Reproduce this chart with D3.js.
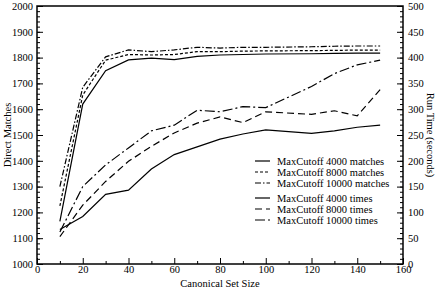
<!DOCTYPE html>
<html>
<head>
<meta charset="utf-8">
<script src="https://cdn.jsdelivr.net/npm/d3@7"></script>
<style>
body{margin:0;background:#fff;}
text{font-family:"Liberation Serif","DejaVu Serif",serif;}
</style>
</head>
<body>
<div class="chart"></div>
<script>
// canonical set sizes
var setSizes = [10,20,30,40,50,60,70,80,90,100,120,130,140,150];
// direct matches (left axis)
var matches4000  = [1165,1620,1749,1791,1798,1792,1805,1810,1812,1814,1815,1816,1817,1817];
var matches8000  = [1225,1655,1790,1812,1810,1812,1823,1823,1825,1826,1827,1828,1829,1829];
var matches10000 = [1300,1685,1803,1830,1823,1830,1840,1837,1840,1840,1842,1844,1845,1845];
// run times in seconds (right axis)
var times4000  = [67,92,135,143,184,212,227,242,252,260,253,258,265,269];
var times8000  = [53,114,160,199,228,254,273,285,274,295,290,297,287,338];
var times10000 = [62,150,192,225,258,269,298,295,305,303,344,369,386,395];

var xTicks = [0,20,40,60,80,100,120,140,160];
var leftTicks = [1000,1100,1200,1300,1400,1500,1600,1700,1800,1900,2000];
var rightTicks = [0,50,100,150,200,250,300,350,400,450,500];
var legendLabels = ["MaxCutoff 4000 matches","MaxCutoff 8000 matches","MaxCutoff 10000 matches",
                    "MaxCutoff 4000 times","MaxCutoff 8000 times","MaxCutoff 10000 times"];

var W = 436, H = 292;
var pl = 37, pr = 403, pt = 6, pb = 264;
var fs = "10.5px";

var svg = d3.select("div.chart").append("svg")
    .attr("width", W).attr("height", H);

var x = d3.scaleLinear().domain([0,160]).range([pl,pr]);
var yL = d3.scaleLinear().domain([1000,2000]).range([pb,pt]);
var yR = d3.scaleLinear().domain([0,500]).range([pb,pt]);

// axes, ticks pointing inward
function styleAxis(g){
    g.select(".domain").remove();
    g.selectAll("line").attr("stroke","#000").attr("stroke-width",1);
    g.selectAll("text").attr("font-size",fs).attr("fill","#000");
}
svg.append("g").attr("transform","translate(0,"+pb+")")
    .call(d3.axisBottom(x).tickValues(d3.range(10,160,20)).tickSize(-3).tickFormat(""))
    .call(styleAxis);
svg.append("g").attr("transform","translate(0,"+pb+")")
    .call(d3.axisBottom(x).tickValues(xTicks).tickSize(-6).tickPadding(2).tickFormat(d3.format("d")))
    .call(styleAxis);

svg.append("g").attr("transform","translate("+pl+",0)")
    .call(d3.axisLeft(yL).tickValues(d3.range(1000,2001,20)).tickSize(-3).tickFormat(""))
    .call(styleAxis);
svg.append("g").attr("transform","translate("+pl+",0)")
    .call(d3.axisLeft(yL).tickValues(leftTicks).tickSize(-6).tickPadding(4).tickFormat(d3.format("d")))
    .call(styleAxis);

svg.append("g").attr("transform","translate("+pr+",0)")
    .call(d3.axisRight(yR).tickValues(d3.range(0,501,10)).tickSize(-3).tickFormat(""))
    .call(styleAxis);
svg.append("g").attr("transform","translate("+pr+",0)")
    .call(d3.axisRight(yR).tickValues(rightTicks).tickSize(-6).tickPadding(5).tickFormat(d3.format("d")))
    .call(styleAxis);

svg.append("rect")
    .attr("x",pl).attr("y",pt)
    .attr("width",pr-pl).attr("height",pb-pt)
    .attr("fill","none").attr("stroke","#000").attr("stroke-width",1.5);

// axis titles
svg.append("text").text("Canonical Set Size")
    .attr("x",(pl+pr)/2).attr("y",287)
    .attr("text-anchor","middle").attr("font-size",fs);
svg.append("text").text("Direct Matches")
    .attr("transform","translate(11,"+((pt+pb)/2)+") rotate(-90)")
    .attr("text-anchor","middle").attr("font-size",fs);
svg.append("text").text("Run Time (seconds)")
    .attr("transform","translate(427,"+((pt+pb)/2)+") rotate(90)")
    .attr("text-anchor","middle").attr("font-size",fs);

// series
var series = [
    {vals:matches4000,  y:yL, dash:null},
    {vals:matches8000,  y:yL, dash:"3,2"},
    {vals:matches10000, y:yL, dash:"6,2,1.5,2"},
    {vals:times4000,    y:yR, dash:null},
    {vals:times8000,    y:yR, dash:"7,4"},
    {vals:times10000,   y:yR, dash:"10,3,2,3"}
];
series.forEach(function(s){
    var line = d3.line()
        .x(function(d,i){ return x(setSizes[i]); })
        .y(function(d){ return s.y(d); });
    svg.append("path")
        .datum(s.vals)
        .attr("d",line)
        .attr("fill","none")
        .attr("stroke","#000")
        .attr("stroke-width",1.2)
        .attr("stroke-dasharray",s.dash);
});

// legend
var legendY = [161,172,183,198,209,220];
legendLabels.forEach(function(lbl,i){
    svg.append("line")
        .attr("x1",255).attr("x2",270)
        .attr("y1",legendY[i]).attr("y2",legendY[i])
        .attr("stroke","#000").attr("stroke-width",1.2)
        .attr("stroke-dasharray",series[i].dash);
    svg.append("text").text(lbl)
        .attr("x",277).attr("y",legendY[i]+4)
        .attr("font-size",fs);
});
</script>
</body>
</html>
